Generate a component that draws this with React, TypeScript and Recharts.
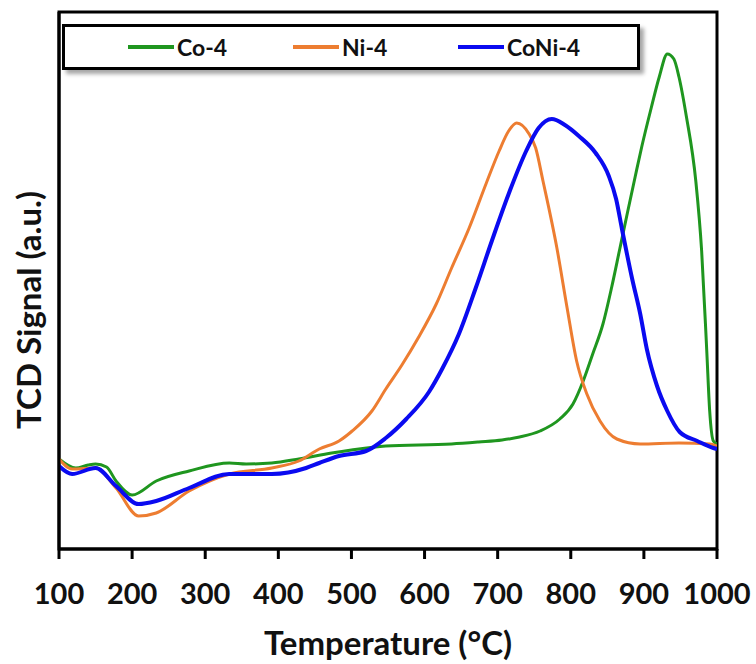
import React from "react";
import {
  LineChart,
  Line,
  XAxis,
  YAxis,
  Legend,
  ReferenceArea,
  Label,
} from "recharts";

// TPR profiles, signal in arbitrary units
const coTemp = [100, 123, 140, 150, 165, 178, 200, 233, 278, 333, 356, 391, 428, 473, 500, 547, 637, 674, 706, 730, 758, 785, 803, 817, 830, 844, 856, 867, 878, 888, 897, 910, 921, 932, 941, 948, 958, 971, 979, 986, 990, 995, 1000];
const coSignal = [90, 81, 84, 85, 82, 68, 54, 68, 78, 86, 85, 86, 90, 96, 99, 103, 105, 107, 109, 112, 118, 130, 145, 168, 195, 225, 262, 300, 338, 372, 402, 441, 472, 495, 490, 472, 433, 368, 298, 198, 138, 108, 105];

const niTemp = [100, 118, 150, 178, 209, 233, 278, 333, 391, 428, 456, 483, 501, 528, 547, 569, 592, 616, 637, 661, 684, 702, 715, 726, 743, 752, 762, 781, 795, 808, 822, 840, 863, 895, 948, 990, 1000];
const niSignal = [90, 80, 81, 61, 33, 36, 58, 75, 81, 88, 100, 108, 118, 138, 160, 184, 212, 245, 281, 321, 365, 398, 418, 426, 415, 401, 368, 301, 241, 188, 155, 128, 110, 105, 106, 105, 103];

const coniTemp = [100, 118, 150, 178, 209, 233, 278, 333, 391, 438, 456, 483, 520, 547, 575, 606, 624, 647, 670, 692, 715, 739, 756, 774, 792, 811, 834, 852, 862, 870, 884, 895, 904, 918, 932, 949, 973, 995, 1000];
const coniSignal = [83, 75, 81, 63, 45, 48, 61, 75, 75, 81, 86, 93, 98, 111, 130, 157, 180, 215, 261, 308, 355, 398, 421, 430, 424, 413, 396, 373, 350, 320, 270, 235, 200, 163, 138, 117, 108, 101, 100];

const xTicks = [100, 200, 300, 400, 500, 600, 700, 800, 900, 1000];

const toPoints = (temps: number[], vals: number[]) =>
  temps.map((t, i) => ({ t, v: vals[i] }));

const series = [
  { name: "Co-4", color: "#1f961f", width: 3, data: toPoints(coTemp, coSignal) },
  { name: "Ni-4", color: "#ed7d31", width: 3, data: toPoints(niTemp, niSignal) },
  { name: "CoNi-4", color: "#0a0af0", width: 4, data: toPoints(coniTemp, coniSignal) },
];

const FONT = "Lato, 'Open Sans', sans-serif";
const itemLeft = [63, 228, 393];

function LegendBox() {
  return (
    <div
      style={{
        position: "relative",
        width: 578,
        height: 46,
        boxSizing: "border-box",
        border: "3px solid #000",
        background: "#fff",
        boxShadow: "4px 4px 4px rgba(0,0,0,0.35)",
        fontFamily: FONT,
      }}
    >
      {series.map((s, i) => (
        <div
          key={s.name}
          style={{
            position: "absolute",
            left: itemLeft[i],
            top: 0,
            height: 40,
            display: "flex",
            alignItems: "center",
          }}
        >
          <span style={{ display: "inline-block", width: 46, height: 4, background: s.color }} />
          <span style={{ marginLeft: 3, fontSize: 23, fontWeight: 700, color: "#111" }}>{s.name}</span>
        </div>
      ))}
    </div>
  );
}

export default function App() {
  return (
    <div style={{ position: "absolute", left: 0, top: 0, background: "#fff", fontFamily: FONT }}>
      <LineChart width={756} height={664} margin={{ top: 12, right: 39, bottom: 0, left: 0 }}>
        <XAxis
          type="number"
          dataKey="t"
          domain={[100, 1000]}
          ticks={xTicks}
          allowDataOverflow
          height={115}
          axisLine={{ stroke: "#000", strokeWidth: 3 }}
          tickLine={{ stroke: "#000", strokeWidth: 3 }}
          tickSize={10}
          tickMargin={24}
          tick={{ fontSize: 29, fontWeight: 700, fill: "#111", fontFamily: FONT }}
        >
          <Label
            value="Temperature (°C)"
            position="insideBottom"
            offset={9}
            style={{ fontSize: 33, fontWeight: 700, fill: "#111", fontFamily: FONT }}
          />
        </XAxis>
        <YAxis
          type="number"
          domain={[0, 537]}
          allowDataOverflow
          width={59}
          tick={false}
          tickLine={false}
          axisLine={{ stroke: "#000", strokeWidth: 3 }}
        >
          <Label
            content={() => (
              <text
                x={0}
                y={0}
                transform="translate(28,310) rotate(-90)"
                textAnchor="middle"
                dominantBaseline="central"
                style={{ fontSize: 33, fontWeight: 700, fill: "#111", fontFamily: FONT }}
              >
                TCD Signal (a.u.)
              </text>
            )}
          />
        </YAxis>
        <ReferenceArea x1={100} x2={1000} y1={0} y2={537} fill="none" stroke="#000" strokeWidth={3} ifOverflow="extendDomain" />
        {series.map((s) => (
          <Line
            key={s.name}
            data={s.data}
            dataKey="v"
            name={s.name}
            type="monotone"
            stroke={s.color}
            strokeWidth={s.width}
            dot={false}
            activeDot={false}
            isAnimationActive={false}
          />
        ))}
        <Legend
          layout="horizontal"
          verticalAlign="middle"
          align="center"
          content={() => <LegendBox />}
          wrapperStyle={{ left: 62, top: 24, width: 578, height: 46 }}
        />
      </LineChart>
    </div>
  );
}
